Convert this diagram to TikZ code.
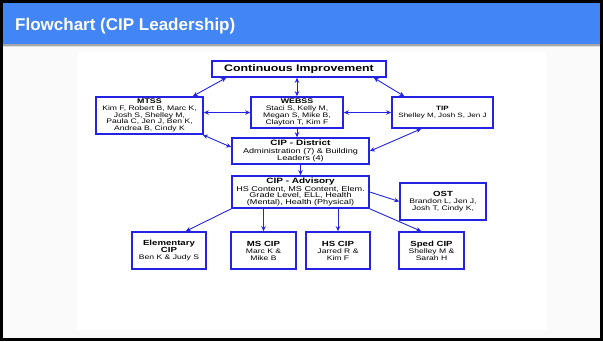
\documentclass[tikz,border=0pt]{standalone}
\usepackage{fontspec}
\setmainfont{Liberation Sans}
\newfontfamily\boxfont[FakeStretch=1.3]{Liberation Sans}
\usepackage{tikz}
\usetikzlibrary{arrows.meta, positioning}
\definecolor{cipblue}{RGB}{35,35,225}
\definecolor{headblue}{RGB}{66,133,244}
\newcommand{\boxhead}[2][7.4]{{\fontsize{#1}{8}\selectfont\bfseries #2}}
\tikzstyle{cipbox} = [rectangle, draw=cipblue, line width=1.6pt, fill=white, align=center, inner sep=0.3pt, font=\boxfont\fontsize{6.6}{7}\selectfont]
\tikzstyle{bigtext} = [font=\boxfont\fontsize{7}{7.3}\selectfont]
\tikzstyle{both} = [cipblue, line width=0.9pt, {Stealth[length=5pt,width=4.5pt]}-{Stealth[length=5pt,width=4.5pt]}]
\tikzstyle{one} = [cipblue, line width=0.9pt, -{Stealth[length=5pt,width=4.5pt]}]

\begin{document}
\begin{tikzpicture}[x=1pt,y=-1pt]
\useasboundingbox (0,0) rectangle (603,341);
\fill[black] (0,0) rectangle (603,341);
\fill[headblue] (3,3) rectangle (600,44);
\fill[black!35] (3,44) rectangle (600,45.5);
\fill[black!12] (3,45.5) rectangle (600,47);
\fill[black!2] (3,47) rectangle (600,338);
\fill[white] (77,52) rectangle (547,330);
\node (title) [anchor=base west, text=white, inner sep=0pt, font=\fontsize{17}{20}\selectfont\bfseries] at (15,30) {Flowchart (CIP Leadership)};

\node (ci) [cipbox, minimum width=174pt, minimum height=16pt] at (299,69) {\boxhead[9.5]{Continuous Improvement}};
\node (mtss) [cipbox, minimum width=107pt, minimum height=37pt, font=\boxfont\fontsize{6.6}{6.7}\selectfont] at (149.5,115.5) {\boxhead[6.8]{MTSS}\\Kim F, Robert B, Marc K,\\Josh S, Shelley M,\\Paula C, Jen J, Ben K,\\Andrea B, Cindy K};
\node (webss) [cipbox, minimum width=92pt, minimum height=31pt] at (297,112.5) {\boxhead[6.8]{WEBSS}\\Staci S, Kelly M,\\Megan S, Mike B,\\Clayton T, Kim F};
\node (tip) [cipbox, minimum width=101pt, minimum height=31pt, font=\boxfont\fontsize{6.2}{6.6}\selectfont] at (442.5,112.5) {\boxhead[6.2]{TIP}\\Shelley M, Josh S, Jen J};
\node (district) [cipbox, bigtext, minimum width=137pt, minimum height=26pt] at (300.5,151) {\boxhead[7.7]{CIP - District}\\Administration (7) \& Building\\Leaders (4)};
\node (advisory) [cipbox, bigtext, minimum width=137pt, minimum height=32pt, font=\boxfont\fontsize{7}{6.4}\selectfont] at (300.5,192) {\boxhead[7.7]{CIP - Advisory}\\HS Content, MS Content, Elem.\\Grade Level, ELL, Health\\(Mental), Health (Physical)};
\node (ost) [cipbox, minimum width=86pt, minimum height=37pt] at (443,201.5) {\boxhead{OST}\\Brandon L, Jen J,\\Josh T, Cindy K,};
\node (elem) [cipbox, minimum width=74pt, minimum height=37pt] at (169,250.5) {\boxhead{Elementary}\\\boxhead{CIP}\\Ben K \& Judy S};
\node (mscip) [cipbox, minimum width=65pt, minimum height=37pt] at (263.5,250.5) {\boxhead{MS CIP}\\Marc K \&\\Mike B};
\node (hscip) [cipbox, minimum width=64pt, minimum height=37pt] at (338,250.5) {\boxhead{HS CIP}\\Jarred R \&\\Kim F};
\node (sped) [cipbox, minimum width=65pt, minimum height=37pt] at (431.5,250.5) {\boxhead{Sped CIP}\\Shelley M \&\\Sarah H};

\draw [both] ([xshift=15pt]ci.south west) -- ([xshift=-11pt]mtss.north east);
\draw [both] (ci.south -| webss.north) -- (webss.north);
\draw [both] ([xshift=-13pt]ci.south east) -- ([xshift=13pt]tip.north west);
\draw [both] (webss.west -| mtss.east) -- (webss.west);
\draw [both] (webss.east) -- (webss.east -| tip.west);
\draw [both] ([xshift=-1pt]mtss.south east) -- ([yshift=-10pt]district.north west);
\draw [both] ([xshift=30pt]tip.south west) -- ([yshift=-14pt]district.north east);
\draw [one] (webss.south) -- (webss.south |- district.north);
\draw [one] (district.south) -- (advisory.north);
\draw [one] (advisory.east) -- (ost.west);
\draw [one] (advisory.south west) -- ([xshift=-21pt]elem.north east);
\draw [one] (advisory.south -| mscip.north) -- (mscip.north);
\draw [one] (advisory.south -| hscip.north) -- (hscip.north);
\draw [one] (advisory.south east) -- ([xshift=23pt]sped.north west);
\end{tikzpicture}
\end{document}
